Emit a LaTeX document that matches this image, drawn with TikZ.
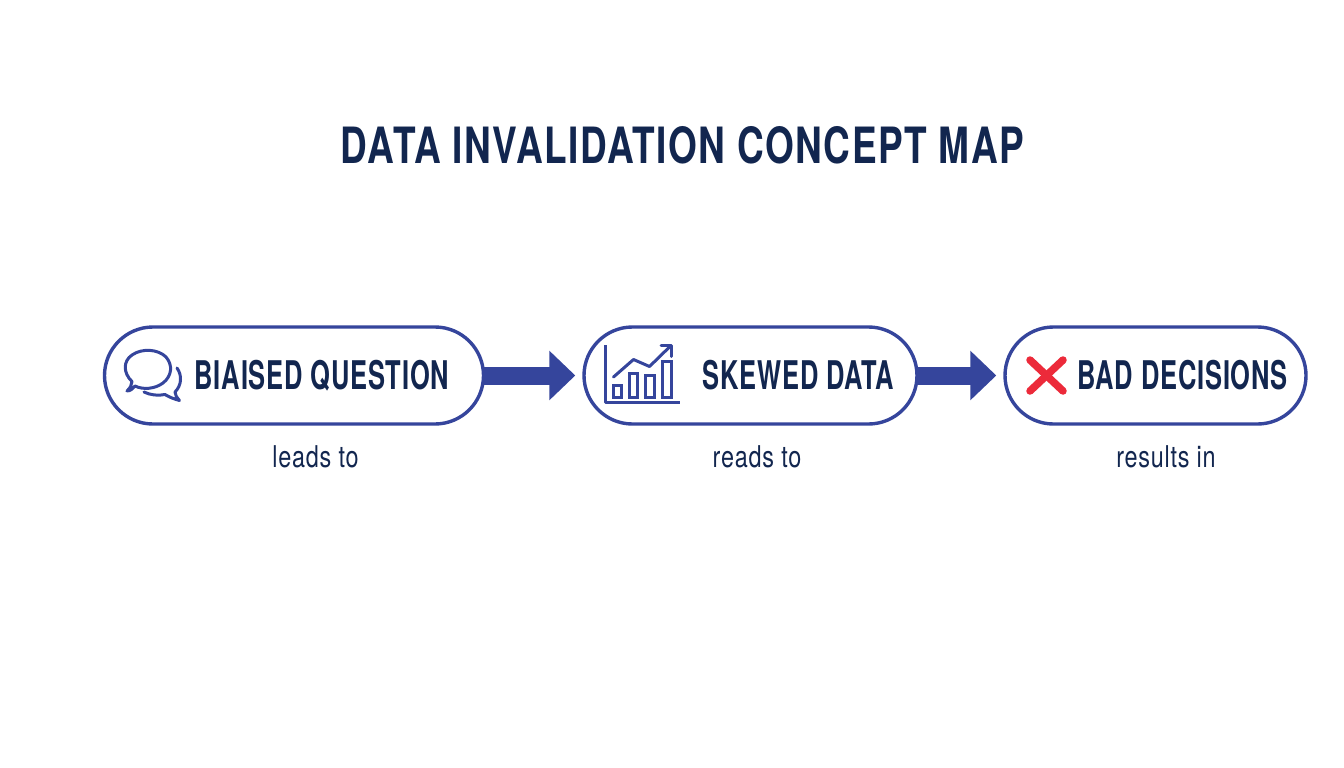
\documentclass[tikz,border=0pt]{standalone}
\usepackage{fontspec}
\usetikzlibrary{arrows.meta,shapes.misc}
\newfontfamily\headfont[FakeStretch=0.645,LetterSpace=2]{TeX Gyre Heros}
\newfontfamily\titlefont[FakeStretch=0.74,LetterSpace=3]{TeX Gyre Heros}
\newfontfamily\labelfont[FakeStretch=0.78,LetterSpace=2.5]{TeX Gyre Heros}
\definecolor{ink}{HTML}{12264F}
\definecolor{royal}{HTML}{35459C}
\definecolor{crossred}{HTML}{EC2A3A}
\tikzset{
 x=1pt,y=-1pt,
 pill/.style={draw=royal,line width=3.4pt,rounded rectangle,fill=white,minimum height=97pt,inner sep=0pt},
 heading/.style={text=ink,inner sep=0pt,font=\headfont\bfseries\fontsize{39.5}{40}\selectfont},
 bigtitle/.style={text=ink,inner sep=0pt,font=\titlefont\bfseries\fontsize{50}{52}\selectfont},
 sublabel/.style={text=ink,inner sep=0pt,font=\labelfont\fontsize{30}{32}\selectfont},
 flow/.style={draw=royal,line width=18pt,-{Triangle[length=26pt,width=48pt]},shorten >=7pt,shorten <=-2pt},
 icon/.style={draw=royal,line width=3pt,line cap=round,line join=round},
 barbox/.style={draw=royal,line width=3pt},
}
\begin{document}
\begin{tikzpicture}
\useasboundingbox (0,0) rectangle (1344,768);
\fill[white] (0,0) rectangle (1344,768);
\node[bigtitle,anchor=base] (title) at (682.5,163) {DATA INVALIDATION CONCEPT MAP};
\node[pill,minimum width=379pt] (q) at (294,375.5) {};
\node[pill,minimum width=333pt] (s) at (750.5,375.5) {};
\node[pill,minimum width=301pt] (b) at (1155.5,375.5) {};
\draw[flow] (q.east) -- (s.west);
\draw[flow] (s.east) -- (b.west);
\node[heading,anchor=base] (qt) at (322,389) {BIAISED QUESTION};
\node[heading,anchor=base] (st) at (798.5,389) {SKEWED DATA};
\node[heading,anchor=base] (bt) at (1182.5,389) {BAD DECISIONS};
\node[sublabel,anchor=base] (l1) at (315.5,467) {leads to};
\node[sublabel,anchor=base] (l2) at (757,467) {reads to};
\node[sublabel,anchor=base] (l3) at (1166,467) {results in};
% speech bubbles
\draw[icon] (132,381.5) .. controls (123,373) and (123,361) .. (132,355) .. controls (142,348) and (158,349) .. (166,357) .. controls (173,365) and (172,376) .. (163,383) .. controls (155,389) and (143,390) .. (135,386) .. controls (133,388) and (131,391) .. (127,391) .. controls (130,388) and (132,385) .. (132,381.5) -- cycle;
\draw[icon] (177,368) .. controls (182,375) and (182,385) .. (175,392) .. controls (175,395) and (177,398) .. (179.5,400.5) .. controls (174,399) and (169,397) .. (165,394.5) .. controls (158,396) and (150,395) .. (144,392);
% chart
\draw[icon,line cap=butt] (605,345) -- (605,402) -- (680,402);
\draw[icon] (613.5,377) -- (633.5,359.5) -- (649.5,366.5) -- (670.5,346);
\draw[icon] (661,345.5) -- (671,345.5) -- (671,356.5);
\draw[barbox] (613,385.5) rectangle (621,397);
\draw[barbox] (629.5,373.5) rectangle (637.5,397);
\draw[barbox] (645.5,375.5) rectangle (654.5,397);
\draw[barbox] (662,361.5) rectangle (671,397);
% red cross
\draw[crossred,line width=7.5pt,line cap=round] (1030,360) -- (1063,391);
\draw[crossred,line width=7.5pt,line cap=round] (1063,360) -- (1030,391);
\end{tikzpicture}
\end{document}
